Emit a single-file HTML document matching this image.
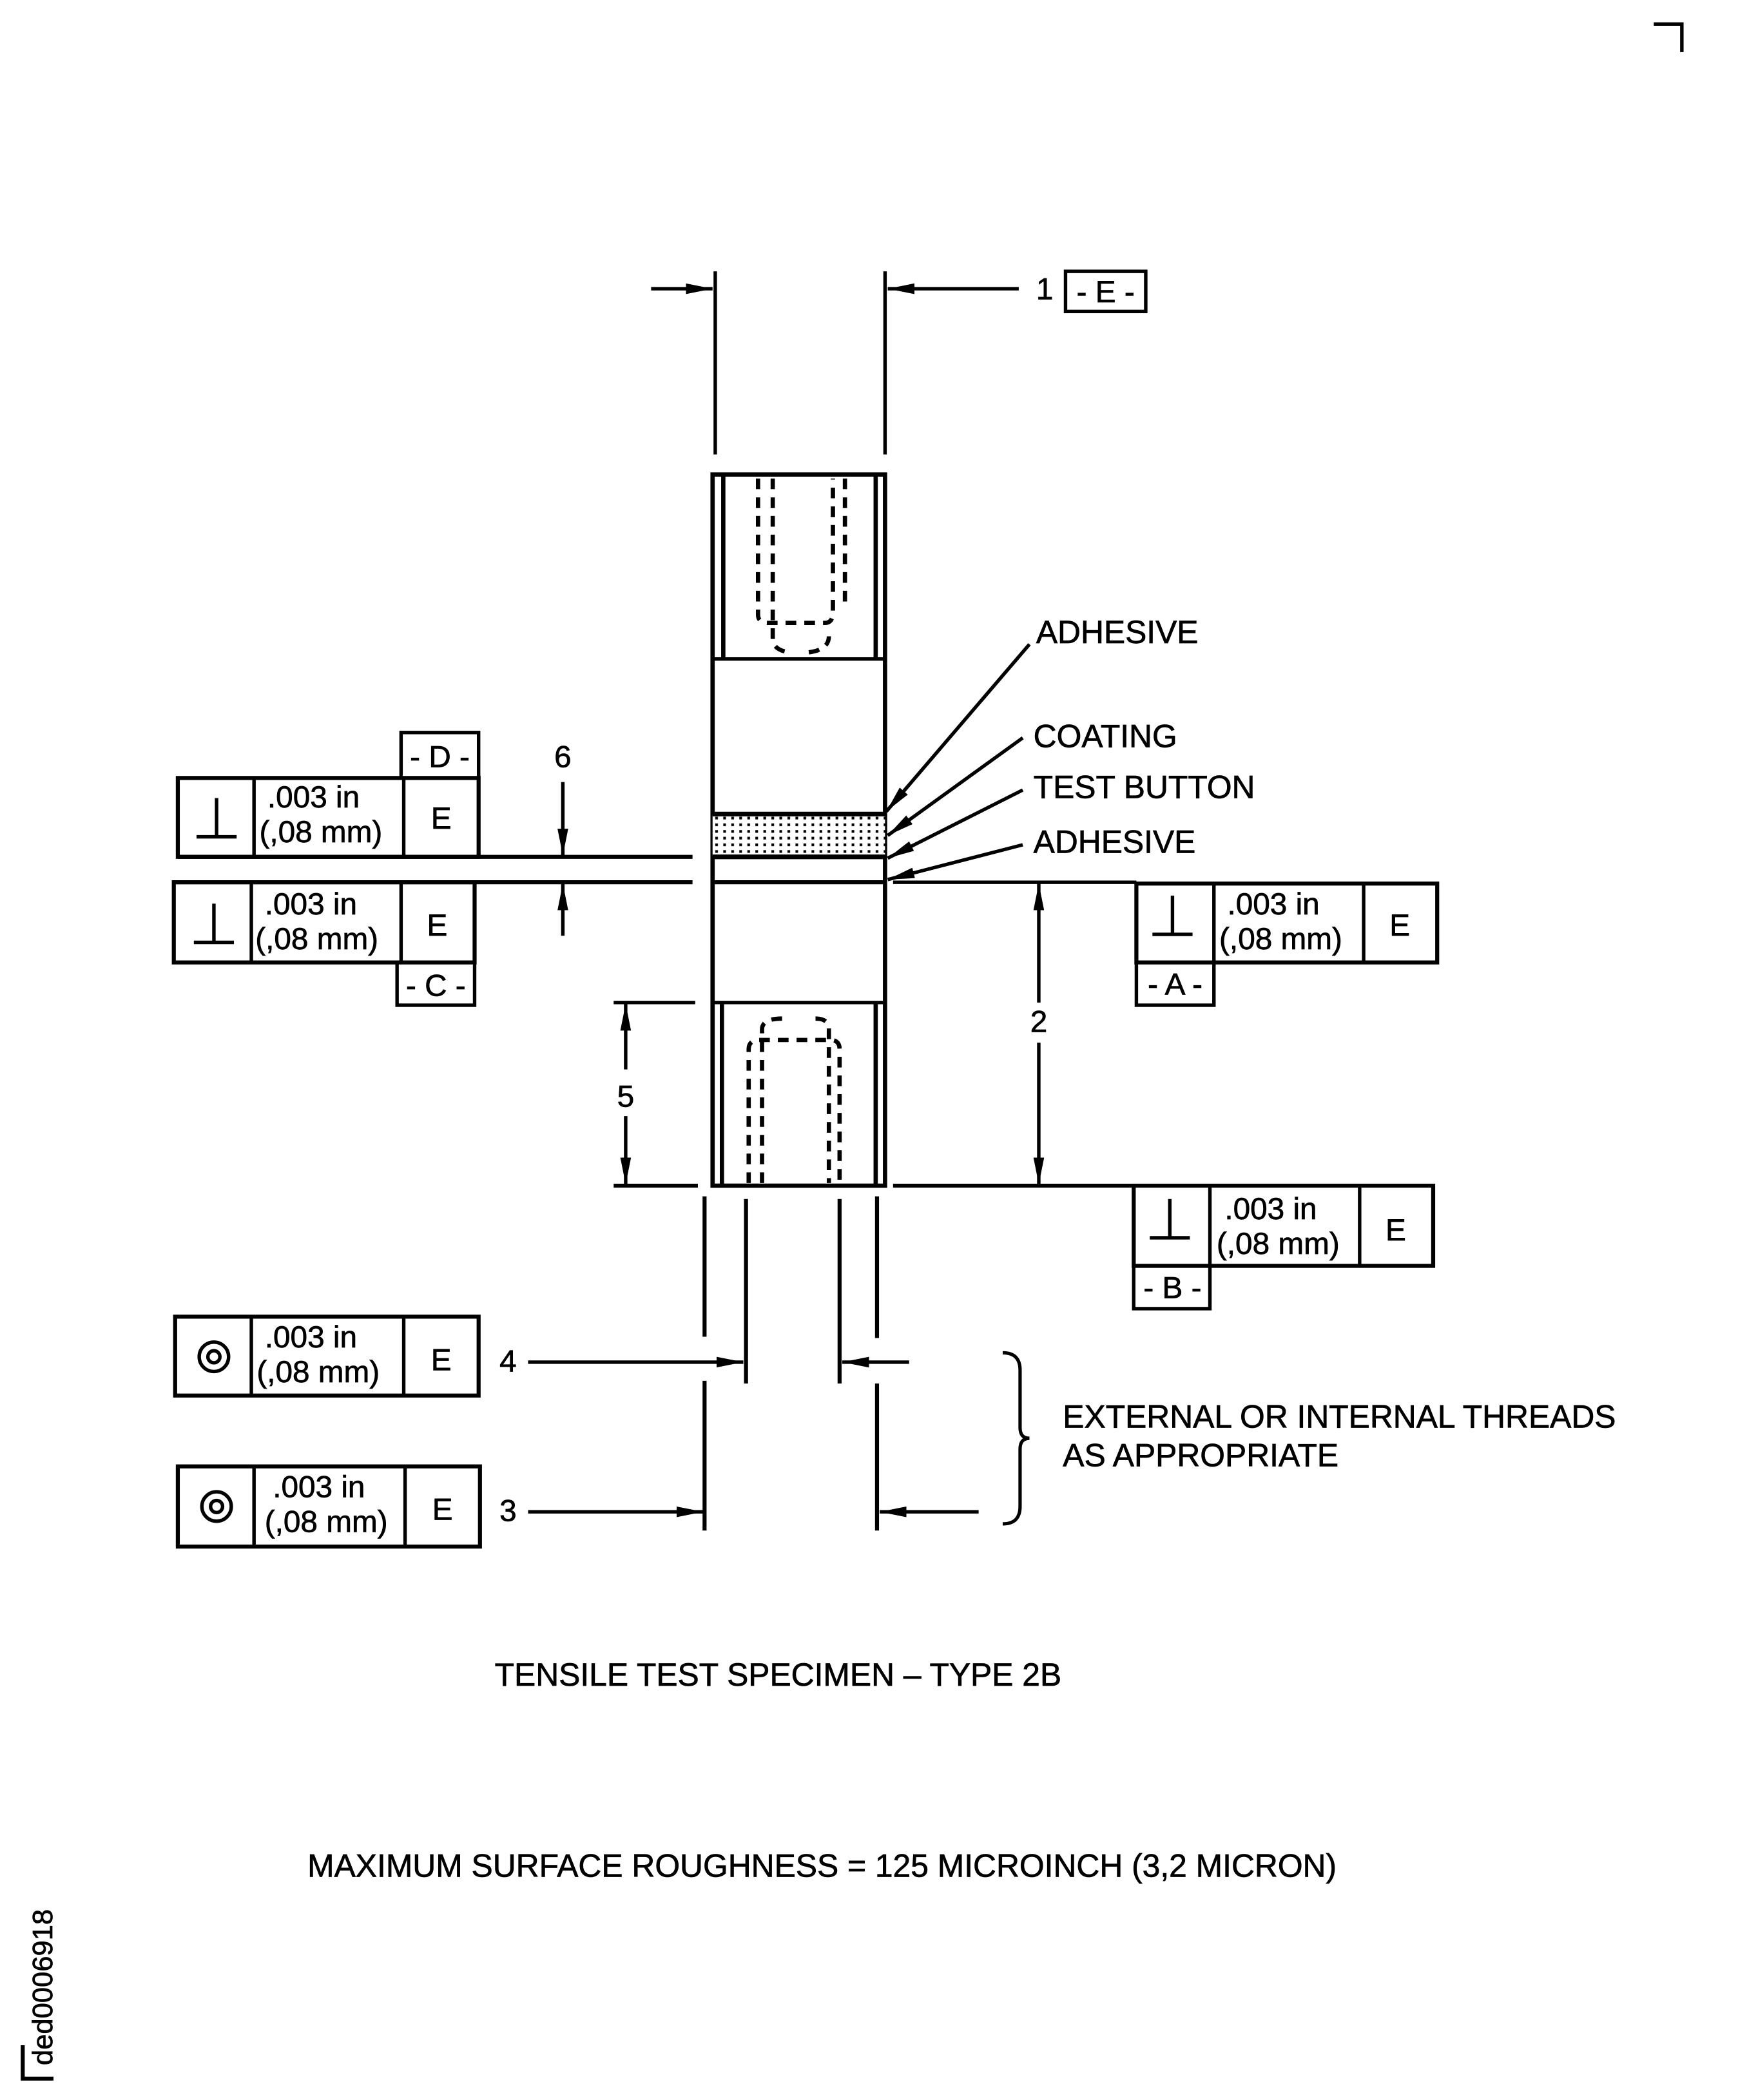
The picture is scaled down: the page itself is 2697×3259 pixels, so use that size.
<!DOCTYPE html>
<html><head><meta charset="utf-8"><style>
html,body{margin:0;padding:0;background:#fff;}
svg{display:block;}
text{font-family:"Liberation Sans",sans-serif;fill:#000;stroke:#000;stroke-width:0.35;}
</style></head><body>
<svg width="2697" height="3259" viewBox="0 0 1300 1571" preserveAspectRatio="none" xmlns="http://www.w3.org/2000/svg">
<defs>
<marker id="ar" viewBox="0 0 20 10" refX="20" refY="5" markerWidth="20" markerHeight="10" markerUnits="userSpaceOnUse" orient="auto"><path d="M0,1 L20,5 L0,9 Z" fill="#000"/></marker>
<pattern id="dots" width="6" height="5" patternUnits="userSpaceOnUse"><rect width="6" height="5" fill="#fff"/><rect x="1" y="1" width="2" height="2" fill="#000"/></pattern>
</defs>
<g stroke="#000" fill="none" stroke-width="2.6">
<path d="M1237,18 H1258 V39"/>
<path d="M17,1530 V1555 H40" stroke-width="3"/>
<line x1="535" y1="203" x2="535" y2="340"/>
<line x1="662" y1="203" x2="662" y2="340"/>
<line x1="487" y1="216" x2="533" y2="216" marker-end="url(#ar)"/>
<line x1="762" y1="216" x2="664" y2="216" marker-end="url(#ar)"/>
<rect x="797" y="203" width="60" height="30"/>
<rect x="533" y="355" width="129" height="532" stroke-width="3.2"/>
<line x1="541" y1="355" x2="541" y2="493" stroke-width="3.2"/>
<line x1="655" y1="355" x2="655" y2="493" stroke-width="3.2"/>
<line x1="533" y1="493" x2="662" y2="493"/>
<rect x="533" y="610" width="129" height="30" fill="url(#dots)" stroke="none"/>
<line x1="533" y1="609" x2="662" y2="609" stroke-width="3.5"/>
<line x1="533" y1="641" x2="662" y2="641" stroke-width="3.5"/>
<line x1="533" y1="660" x2="662" y2="660" stroke-width="3"/>
<line x1="533" y1="750" x2="662" y2="750"/>
<line x1="540" y1="750" x2="540" y2="887" stroke-width="3.2"/>
<line x1="655" y1="750" x2="655" y2="887" stroke-width="3.2"/>
<g stroke-width="3.2" stroke-dasharray="8,6">
<path d="M567,358 V460 Q567,466 575,466 H617 Q623,466 623,458 V358"/>
<path d="M578,358 V478 Q578,486 590,488 M605,488 Q620,486 620,476"/>
<line x1="632" y1="358" x2="632" y2="452"/>
<path d="M560,885 V785 Q560,778 568,778 H621 Q628,778 628,785 V885"/>
<path d="M570,885 V770 Q570,762 585,762 M610,762 Q620,762 620,770 V885"/>
</g>
<line x1="133" y1="641" x2="518" y2="641" stroke-width="3"/>
<line x1="130" y1="660" x2="518" y2="660" stroke-width="3"/>
<rect x="133" y="582" width="225" height="59" stroke-width="3"/>
<line x1="190" y1="582" x2="190" y2="641"/><line x1="302" y1="582" x2="302" y2="641"/>
<rect x="300" y="548" width="58" height="34"/>
<rect x="130" y="660" width="225" height="60" stroke-width="3"/>
<line x1="188" y1="660" x2="188" y2="720"/><line x1="300" y1="660" x2="300" y2="720"/>
<rect x="297" y="720" width="58" height="32"/>
<line x1="421" y1="585" x2="421" y2="640" marker-end="url(#ar)"/>
<line x1="421" y1="700" x2="421" y2="661" marker-end="url(#ar)"/>
<line x1="668" y1="660" x2="850" y2="660"/>
<rect x="850" y="661" width="225" height="59" stroke-width="3"/>
<line x1="908" y1="661" x2="908" y2="720"/><line x1="1020" y1="661" x2="1020" y2="720"/>
<rect x="850" y="720" width="58" height="32"/>
<line x1="777" y1="750" x2="777" y2="661" marker-end="url(#ar)"/>
<line x1="777" y1="780" x2="777" y2="886" marker-end="url(#ar)"/>
<line x1="668" y1="887" x2="848" y2="887" stroke-width="3"/>
<rect x="848" y="887" width="224" height="60" stroke-width="3"/>
<line x1="905" y1="887" x2="905" y2="947"/><line x1="1017" y1="887" x2="1017" y2="947"/>
<rect x="848" y="947" width="57" height="32"/>
<line x1="459" y1="750" x2="520" y2="750"/>
<line x1="459" y1="887" x2="522" y2="887" stroke-width="3"/>
<line x1="468" y1="800" x2="468" y2="751" marker-end="url(#ar)"/>
<line x1="468" y1="835" x2="468" y2="886" marker-end="url(#ar)"/>
<line x1="527" y1="895" x2="527" y2="1000" stroke-width="3"/>
<line x1="527" y1="1033" x2="527" y2="1145" stroke-width="3"/>
<line x1="656" y1="895" x2="656" y2="1001" stroke-width="3"/>
<line x1="656" y1="1035" x2="656" y2="1145" stroke-width="3"/>
<line x1="558" y1="897" x2="558" y2="1035" stroke-width="3"/>
<line x1="628" y1="897" x2="628" y2="1035" stroke-width="3"/>
<line x1="395" y1="1019" x2="556" y2="1019" marker-end="url(#ar)"/>
<line x1="680" y1="1019" x2="630" y2="1019" marker-end="url(#ar)"/>
<line x1="395" y1="1131" x2="526" y2="1131" marker-end="url(#ar)"/>
<line x1="732" y1="1131" x2="658" y2="1131" marker-end="url(#ar)"/>
<rect x="131" y="985" width="227" height="59" stroke-width="3"/>
<line x1="188" y1="985" x2="188" y2="1044"/><line x1="302" y1="985" x2="302" y2="1044"/>
<rect x="133" y="1097" width="226" height="60" stroke-width="3"/>
<line x1="190" y1="1097" x2="190" y2="1157"/><line x1="303" y1="1097" x2="303" y2="1157"/>
<circle cx="160" cy="1015" r="11"/><circle cx="160" cy="1015" r="4.5"/>
<circle cx="162" cy="1127" r="11"/><circle cx="162" cy="1127" r="4.5"/>
<path d="M147,626 H177 M162,626 V597"/>
<path d="M145,705 H175 M160,705 V676"/>
<path d="M862,699 H892 M877,699 V670"/>
<path d="M860,926 H890 M875,926 V897"/>
<path d="M750,1012 Q763,1012 763,1025 V1068 Q763,1076 770,1076 Q763,1076 763,1084 V1127 Q763,1140 750,1140" stroke-width="2.5"/>
<line x1="770" y1="482" x2="663" y2="607" marker-end="url(#ar)"/>
<line x1="765" y1="552" x2="664" y2="625" marker-end="url(#ar)"/>
<line x1="765" y1="591" x2="664" y2="642" marker-end="url(#ar)"/>
<line x1="765" y1="632" x2="664" y2="658" marker-end="url(#ar)"/>
</g>
<g font-size="23">
<text x="775" y="224">1</text>
<text x="827" y="226" text-anchor="middle">- E -</text>
<text x="329" y="574" text-anchor="middle">- D -</text>
<text x="326" y="745" text-anchor="middle">- C -</text>
<text x="879" y="744" text-anchor="middle">- A -</text>
<text x="877" y="971" text-anchor="middle">- B -</text>
<text x="421" y="574" text-anchor="middle">6</text>
<text x="777" y="772" text-anchor="middle">2</text>
<text x="468" y="828" text-anchor="middle">5</text>
<text x="380" y="1026" text-anchor="middle">4</text>
<text x="380" y="1138" text-anchor="middle">3</text>
<text x="200" y="604">.003 in</text><text x="194" y="630">(,08 mm)</text>
<text x="330" y="620" text-anchor="middle">E</text>
<text x="198" y="684">.003 in</text><text x="191" y="710">(,08 mm)</text>
<text x="327" y="700" text-anchor="middle">E</text>
<text x="918" y="684">.003 in</text><text x="912" y="710">(,08 mm)</text>
<text x="1047" y="700" text-anchor="middle">E</text>
<text x="916" y="912">.003 in</text><text x="910" y="938">(,08 mm)</text>
<text x="1044" y="928" text-anchor="middle">E</text>
<text x="198" y="1008">.003 in</text><text x="192" y="1034">(,08 mm)</text>
<text x="330" y="1025" text-anchor="middle">E</text>
<text x="204" y="1120">.003 in</text><text x="198" y="1146">(,08 mm)</text>
<text x="331" y="1137" text-anchor="middle">E</text>
</g>
<g font-size="24">
<text x="775" y="481">ADHESIVE</text>
<text x="773" y="559">COATING</text>
<text x="773" y="597">TEST BUTTON</text>
<text x="773" y="638">ADHESIVE</text>
<text x="795" y="1068">EXTERNAL OR INTERNAL THREADS</text>
<text x="795" y="1097">AS APPROPRIATE</text>
<text x="370" y="1261">TENSILE TEST SPECIMEN – TYPE 2B</text>
<text x="230" y="1404">MAXIMUM SURFACE ROUGHNESS = 125 MICROINCH (3,2 MICRON)</text>
<text transform="translate(39,1545) rotate(-90)" font-size="21">ded0006918</text>
</g>
</svg>
</body></html>
